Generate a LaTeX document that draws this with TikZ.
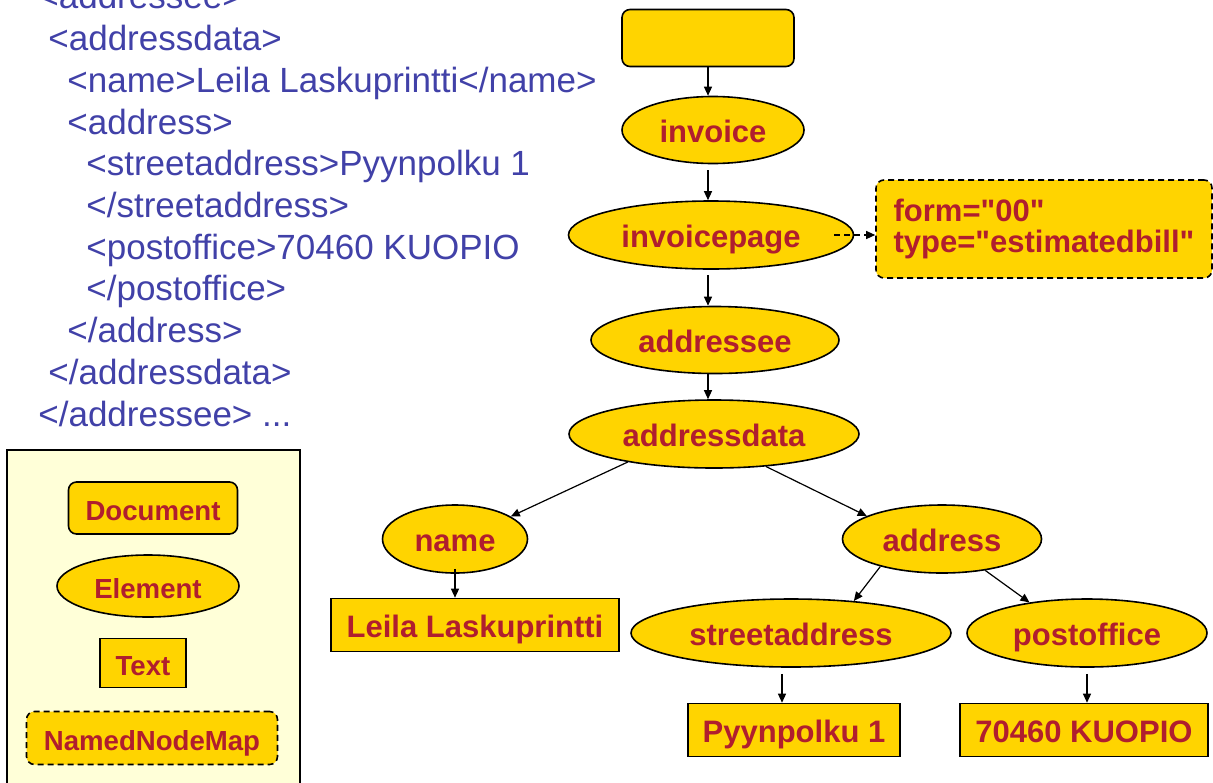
\documentclass[tikz,border=0pt]{standalone}
\usepackage{fontspec}
\setmainfont{Liberation Sans}
\usetikzlibrary{shapes.geometric, arrows.meta, calc}
\definecolor{NodeFill} {HTML}{FFD400}
\definecolor{NodeText} {HTML}{B01E2E}
\definecolor{XmlBlue}  {HTML}{4141A8}
\definecolor{LegendBg} {HTML}{FFFFD8}
\tikzset{
  treetxt/.style={text=NodeText, font=\fontsize{15.5}{15.5}\selectfont\bfseries, inner sep=0pt,
                  text height=14pt, text depth=2pt},
  elem/.style={treetxt, ellipse, fill=NodeFill, draw=black, line width=0.8pt},
  txtbox/.style={treetxt, rectangle, fill=NodeFill, draw=black, line width=0.8pt},
  docbox/.style={txtbox, rounded corners=4pt},
  mapbox/.style={txtbox, rounded corners=4pt, dash pattern=on 3pt off 2pt},
  legtxt/.style={font=\fontsize{13.8}{14}\selectfont\bfseries},
  arr/.style={-{Triangle[length=4.5pt,width=4pt]}, line width=0.6pt},
  xml/.style={anchor=base west, inner sep=0pt, text=XmlBlue,
              font=\fontsize{17.5}{21}\selectfont}
}
\begin{document}
\begin{tikzpicture}[x=0.5pt, y=-0.5pt]
  \useasboundingbox (0,0) rectangle (1213,782);
  % XML source
  \node[xml] (x1)  at (38,8)   {<addressee>};
  \node[xml] (x2)  at (48,50)  {<addressdata>};
  \node[xml] (x3)  at (67,92)  {<name>Leila Laskuprintti</name>};
  \node[xml] (x4)  at (67,134) {<address>};
  \node[xml] (x5)  at (86,175) {<streetaddress>Pyynpolku 1};
  \node[xml] (x6)  at (86,217) {</streetaddress>};
  \node[xml] (x7)  at (86,259) {<postoffice>70460 KUOPIO};
  \node[xml] (x8)  at (86,300) {</postoffice>};
  \node[xml] (x9)  at (67,342) {</address>};
  \node[xml] (x10) at (48,384) {</addressdata>};
  \node[xml] (x11) at (38,426) {</addressee> ...};

  % legend
  \draw[fill=LegendBg, line width=0.8pt] (7,450) rectangle (300,800);
  \node[docbox, legtxt, minimum width=84.5pt, minimum height=26pt] (ldoc) at (153,508) {Document};
  \node[elem, legtxt, minimum width=91pt, minimum height=31pt] (lelem) at (148,586) {Element};
  \node[txtbox, legtxt, minimum width=43pt, minimum height=24.5pt] (ltext) at (143,663) {Text};
  \node[mapbox, legtxt, minimum width=125.5pt, minimum height=26.5pt] (lmap) at (152,738) {NamedNodeMap};

  % tree
  \node[docbox, minimum width=86pt, minimum height=28.5pt] (doc) at (708,38) {};
  \node[elem, minimum width=91pt, minimum height=33.5pt] (inv) at (713,130) {invoice};
  \node[elem, minimum width=142.5pt, minimum height=34pt] (ipage) at (711,235) {invoicepage};
  \node[mapbox, minimum width=168pt, minimum height=49pt, align=left,
        text height=, text depth=] (attr) at (1044,229)
    {form=\textquotedbl 00\textquotedbl\\type=\textquotedbl estimatedbill\textquotedbl};
  \node[elem, minimum width=124pt, minimum height=33.5pt] (addressee) at (715,340) {addressee};
  \node[elem, minimum width=145pt, minimum height=34pt] (adata) at (714,434) {addressdata};
  \node[elem, minimum width=72.5pt, minimum height=34pt] (name) at (455,539) {name};
  \node[elem, minimum width=99.5pt, minimum height=34pt] (address) at (942,539) {address};
  \node[txtbox, minimum width=144pt, minimum height=26.5pt] (leila) at (475,625) {Leila Laskuprintti};
  \node[elem, minimum width=160pt, minimum height=34pt] (street) at (791,633) {streetaddress};
  \node[elem, minimum width=120pt, minimum height=34pt] (post) at (1087,633) {postoffice};
  \node[txtbox, minimum width=106pt, minimum height=26.5pt] (pyyn) at (794,730) {Pyynpolku 1};
  \node[txtbox, minimum width=124pt, minimum height=26.5pt] (kuopio) at (1084,730) {70460 KUOPIO};

  % connectors
  \draw[arr] (doc.south) -- (doc.south |- inv.north);
  \draw[arr, shorten <=3pt] (inv.south -| doc.south) -- (ipage.north -| doc.south);
  \draw[arr, shorten <=2.5pt] (ipage.south -| doc.south) -- (addressee.north -| doc.south);
  \draw[arr] (addressee.south -| doc.south) -- (adata.north -| doc.south);
  \draw[arr, dash pattern=on 3pt off 2pt] ([xshift=-10pt]ipage.east) -- (ipage.east -| attr.west);
  \draw[arr] (adata.198) -- (name.22);
  \draw[arr] (adata.328) -- (address.163);
  \draw[arr] (address.204) -- (street.27);
  \draw[arr] (address.324) -- (post.152);
  \draw[arr] ([yshift=2.5pt]name.south) -- (name.south |- leila.north);
  \draw[arr] ($(street.south)+(-4.5pt,-3pt)$) -- ($(street.south |- pyyn.north)+(-4.5pt,0)$);
  \draw[arr] ([yshift=-3pt]post.south) -- (post.south |- kuopio.north);
\end{tikzpicture}
\end{document}
